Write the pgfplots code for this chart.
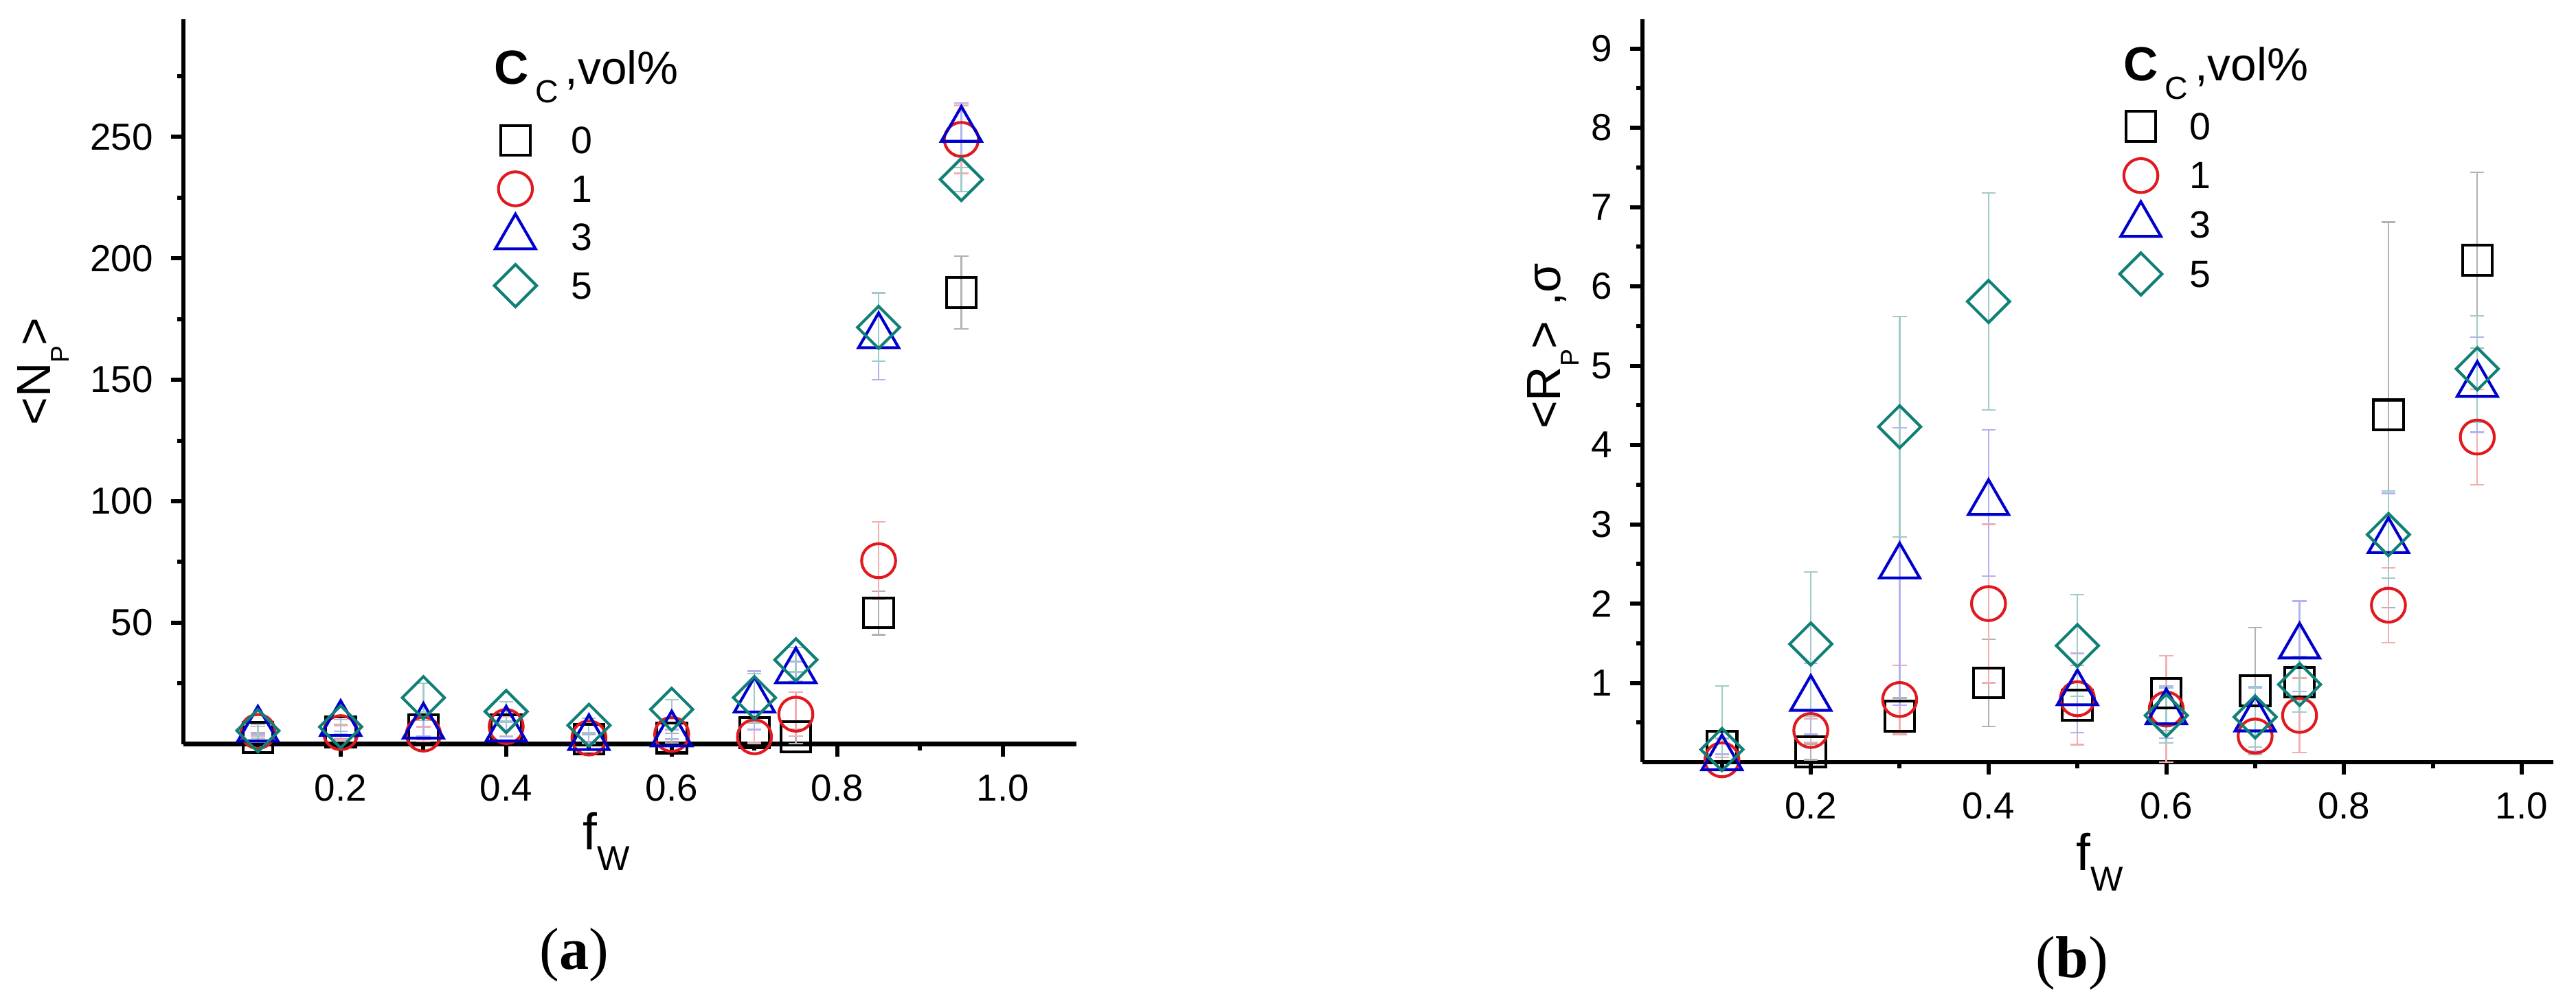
\documentclass[border=0pt]{standalone}
\usepackage{pgfplots}
\pgfplotsset{compat=1.18}
\usepackage{pgfplotstable}
\usepackage{fontspec}
\setmainfont{Liberation Sans}
\newfontfamily\capfont{Liberation Serif}

\definecolor{cred}{RGB}{225,25,30}
\definecolor{cblue}{RGB}{0,0,205}
\definecolor{cteal}{RGB}{16,128,118}

% <N_P> vs f_W, one column pair (value, error) per C_C
\pgfplotstableread{
x     s0    e0    s1    e1    s3    e3    s5    e5
0.10  2.7   2     5.2   2     6     2     5.5   3
0.20  5     3     4.7   3     8.3   3     7.1   3
0.30  5.8   4     4.1   3     7.2   4     19.1  6
0.40  6     3     7.2   4     6     3     13.4  4
0.50  2     2     2.5   2     2.5   2     7.7   3
0.60  2.5   2     4     2     4     2     14.3  4
0.70  4.7   4     3     3     18    12    19.1  10
0.75  3     3     12.3  9     30    4     34.7  5
0.85  54    9     75.5  16    168   18    171.6 14
0.95  186   15    249   14    253   11    232.5 5
}\tabN

% <R_P>, sigma vs f_W
\pgfplotstableread{
x     s0    e0    s1    e1    s3    e3    s5    e5
0.10  0.20  0.10  0.03  0.03  0.05  0.05  0.16  0.80
0.20  0.13  0.10  0.40  0.15  0.80  0.45  1.49  0.91
0.30  0.58  0.23  0.79  0.43  2.47  1.75  4.23  1.39
0.40  1.00  0.55  2.00  1.00  3.27  0.92  5.81  1.37
0.50  0.72  0.50  0.80  0.58  0.87  0.50  1.47  0.64
0.60  0.87  0.47  0.67  0.67  0.63  0.33  0.59  0.35
0.70  0.90  0.80  0.33  0.20  0.54  0.40  0.57  0.38
0.75  1.01  0.20  0.59  0.47  1.46  0.57  0.98  0.35
0.85  4.38  2.43  1.98  0.47  2.79  0.60  2.87  0.55
0.95  6.33  1.11  4.10  0.60  4.76  0.60  4.96  0.67
}\tabR

\pgfplotsset{
  eb/.style={error bars/y dir=both, error bars/y explicit,
    error bars/error bar style={line width=0.3pt, #1},
    error bars/error mark options={rotate=90, mark size=1.35pt, line width=0.3pt, #1}},
  s0/.style={only marks, black, mark=square, mark size=2.9pt, mark options={line width=0.55pt}, eb=black!30},
  s1/.style={only marks, cred, mark=o, mark size=3.3pt, mark options={line width=0.55pt}, eb=cred!35},
  s3/.style={only marks, cblue, mark=triangle, mark size=4.5pt, mark options={line width=0.55pt}, eb=cblue!30},
  s5/.style={only marks, cteal, mark=square, mark size=2.9pt, mark options={line width=0.55pt, rotate=45}, eb=cteal!40},
  panel/.style={
    scale only axis, anchor=south west,
    axis lines*=left, tick pos=left, tick align=outside,
    axis line style={line width=0.85pt},
    major tick length=2.4pt, minor tick length=1.2pt,
    every tick/.style={black, line width=0.8pt},
    xtick={0.2,0.4,0.6,0.8,1.0}, xticklabels={0.2,0.4,0.6,0.8,1.0},
    minor xtick={0.1,0.3,0.5,0.7,0.9},
    ticklabel style={font=\fontsize{7.3}{8}\selectfont},
    /pgf/number format/assume math mode=true,
    xlabel={f\raisebox{-4.1pt}{\fontsize{6.7}{7}\selectfont W}},
    xlabel style={font=\fontsize{10}{12}\selectfont, anchor=base west, inner sep=0pt},
    ylabel style={font=\fontsize{9.3}{11}\selectfont, anchor=base, inner sep=0pt},
    legend image code/.code={\draw[##1] plot coordinates {(0pt,0pt)};},
    legend style={draw=none, fill=none, anchor=north west, inner sep=0pt, row sep=0pt,
      font=\fontsize{7.4}{8}\selectfont,
      nodes={inner sep=0pt, text depth=0pt}, cells={anchor=center}},
  },
}

\begin{document}
\begin{tikzpicture}
\useasboundingbox (0,0) rectangle (500pt,193.47pt);

\begin{axis}[panel,
  at={(35.6pt,48.99pt)}, width=173.33pt, height=140.75pt,
  xmin=0.01, xmax=1.089, ymin=0, ymax=298.5,
  ytick={50,100,150,200,250}, minor ytick={25,75,125,175,225,275},
  xlabel style={at={(axis description cs:0.446,-0.1454)}},
  ylabel={<N\raisebox{-3.6pt}{\fontsize{5}{6}\selectfont P}>},
  ylabel style={at={(axis description cs:-0.149,0.514)}},
  legend style={at={(0.347,0.8676)}, column sep=6.7pt, nodes={minimum height=9.4pt}},
]
\addplot[s0] table[x=x, y=s0, y error=e0] {\tabN};
\addplot[s1] table[x=x, y=s1, y error=e1] {\tabN};
\addplot[s3] table[x=x, y=s3, y error=e3] {\tabN};
\addplot[s5] table[x=x, y=s5, y error=e5] {\tabN};
\legend{0,1,3,5}
\end{axis}

\begin{axis}[panel,
  at={(318.8pt,45.47pt)}, width=176.8pt, height=144.27pt,
  xmin=0.0106, xmax=1.0356, ymin=0, ymax=9.37,
  ytick={1,2,3,4,5,6,7,8,9}, minor ytick={0.5,1.5,...,8.5},
  xlabel style={at={(axis description cs:0.475,-0.1451)}},
  ylabel={<R\raisebox{-3.6pt}{\fontsize{5}{6}\selectfont P}>\hspace{3pt},σ},
  ylabel style={at={(axis description cs:-0.0899,0.56)}},
  legend style={at={(0.5228,0.8903)}, column sep=5.3pt, nodes={minimum height=9.56pt}},
]
\addplot[s0] table[x=x, y=s0, y error=e0] {\tabR};
\addplot[s1] table[x=x, y=s1, y error=e1] {\tabR};
\addplot[s3] table[x=x, y=s3, y error=e3] {\tabR};
\addplot[s5] table[x=x, y=s5, y error=e5] {\tabR};
\legend{0,1,3,5}
\end{axis}

% legend titles and panel captions
\node[anchor=base west, inner sep=0pt] at (95.73pt,177.2pt)
  {{\fontsize{9.3}{11}\selectfont\bfseries C}\hspace{1.3pt}\raisebox{-3.6pt}{\fontsize{6.2}{7}\selectfont C}\hspace{1.3pt}{\fontsize{9}{11}\selectfont ,vol\%}};
\node[anchor=base west, inner sep=0pt] at (412pt,177.87pt)
  {{\fontsize{9.3}{11}\selectfont\bfseries C}\hspace{1.3pt}\raisebox{-3.6pt}{\fontsize{6.2}{7}\selectfont C}\hspace{1.3pt}{\fontsize{9}{11}\selectfont ,vol\%}};
\node[anchor=base, inner sep=0pt, font=\capfont\fontsize{11.5}{13}\selectfont] at (111.47pt,5.33pt) {(\textbf{a})};
\node[anchor=base, inner sep=0pt, font=\capfont\fontsize{11.5}{13}\selectfont] at (402.13pt,3.73pt) {(\textbf{b})};
\end{tikzpicture}
\end{document}
